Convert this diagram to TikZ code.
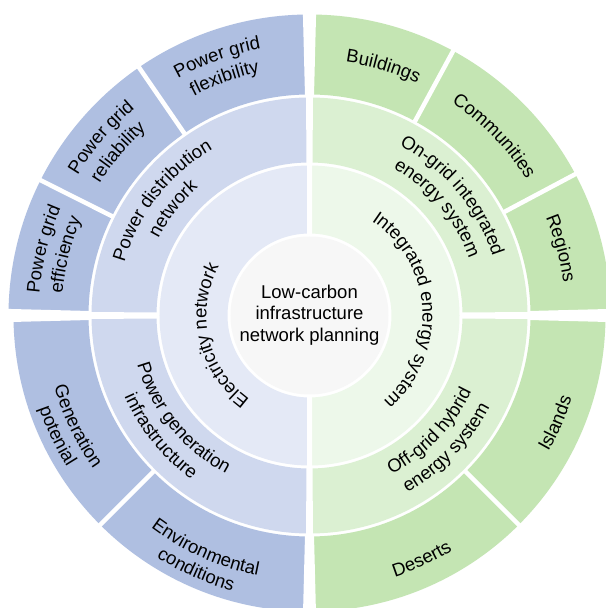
\documentclass[tikz,border=0pt]{standalone}
\usepackage{fontspec}
\setmainfont{Liberation Sans}
\usetikzlibrary{decorations.text}
\definecolor{bOut}{HTML}{AFBFE1}
\definecolor{bMid}{HTML}{CFD8EE}
\definecolor{bIn}{HTML}{E4E9F6}
\definecolor{gOut}{HTML}{C4E5B3}
\definecolor{gMid}{HTML}{DBF0D2}
\definecolor{gIn}{HTML}{EDF8EA}
\definecolor{hubfill}{HTML}{F7F7F7}
\newcommand\labfont{\fontsize{18.5bp}{21.7bp}\selectfont}
\newcommand\sectorfill[5]{\fill[#1] (#2:#4) arc[start angle=#2,end angle=#3,radius=#4] -- (#3:#5) arc[start angle=#3,end angle=#2,radius=#5] -- cycle;}
\newcommand\curvetext[4]{\path[decorate,decoration={text along path,text align=center,text={|\labfont|#4}}] (#2:#1) arc[start angle=#2,end angle=#3,radius=#1];}
\newcommand\gapwedge[2]{\fill[white,rotate=#1] (#2,-2.5) -- (152,-2.5) -- (152,-3) -- (219.5,-3.5) -- (219.5,-4.5) -- (310,-6.8) -- (310,6.8) -- (219.5,4.5) -- (219.5,3.5) -- (152,3) -- (152,2.5) -- (#2,2.5) -- cycle;}
\tikzset{segline/.style={white,line width=4.5bp}}
\begin{document}
\begin{tikzpicture}[x=1bp,y=1bp]
\useasboundingbox (-309.5,-292.5) rectangle (296.5,315.5);
\fill[white] (-309.5,-292.5) rectangle (296.5,315.5);
\clip (-309.5,-292.5) rectangle (296.5,315.5);
% outer ring
\sectorfill{bOut}{90}{180}{221}{301}
\sectorfill{bOut}{180}{270}{221}{296}
\sectorfill{gOut}{0}{90}{221}{301}
\sectorfill{gOut}{270}{360}{221}{296}
% middle ring
\sectorfill{bMid}{90}{270}{153}{218}
\sectorfill{gMid}{-90}{90}{153}{218}
% inner ring
\sectorfill{bIn}{90}{270}{82}{150}
\sectorfill{gIn}{-90}{90}{82}{150}
% hub
\fill[hubfill] (0,0) circle[radius=79];
% gaps
\gapwedge{90}{80}
\gapwedge{270}{80}
\gapwedge{0}{151}
\gapwedge{180}{151}
\foreach \a in {124.5,153.3,225,61.5,28,315} {\draw[segline] (\a:219) -- (\a:312);}
% hub text
\node[align=center,font=\labfont] (hub) at (0,0.5) {Low-carbon\\infrastructure\\network planning};
% inner ring texts
\curvetext{103}{263}{123}{Electricity network}
\curvetext{113}{73.7}{-66.3}{Integrated energy system}
% middle ring texts
\curvetext{192.5}{182}{102}{Power distribution}
\curvetext{169.5}{182}{102}{network}
\curvetext{192.5}{80}{0}{On-grid integrated}
\curvetext{169.5}{80}{0}{energy system}
\curvetext{179}{179}{259}{Power generation}
\curvetext{202}{179}{259}{infrastructure}
\curvetext{179}{276}{356}{Off-grid hybrid}
\curvetext{202}{276}{356}{energy system}
% outer ring texts
\curvetext{271}{139.7}{79.7}{Power grid}
\curvetext{248}{139.7}{79.7}{flexibility}
\curvetext{271}{169.5}{109.5}{Power grid}
\curvetext{248}{169.5}{109.5}{reliability}
\curvetext{271}{196}{136}{Power grid}
\curvetext{248}{196}{136}{efficiency}
\curvetext{256}{103.5}{43.5}{Buildings}
\curvetext{256}{74.2}{14.2}{Communities}
\curvetext{256}{45}{-15}{Regions}
\curvetext{265}{175.5}{235.5}{Generation}
\curvetext{286}{175.5}{235.5}{potenial}
\curvetext{265}{216}{276}{Environmental}
\curvetext{286}{216}{276}{conditions}
\curvetext{275}{264.7}{324.7}{Deserts}
\curvetext{275}{306.4}{366.4}{Islands}
\end{tikzpicture}
\end{document}
